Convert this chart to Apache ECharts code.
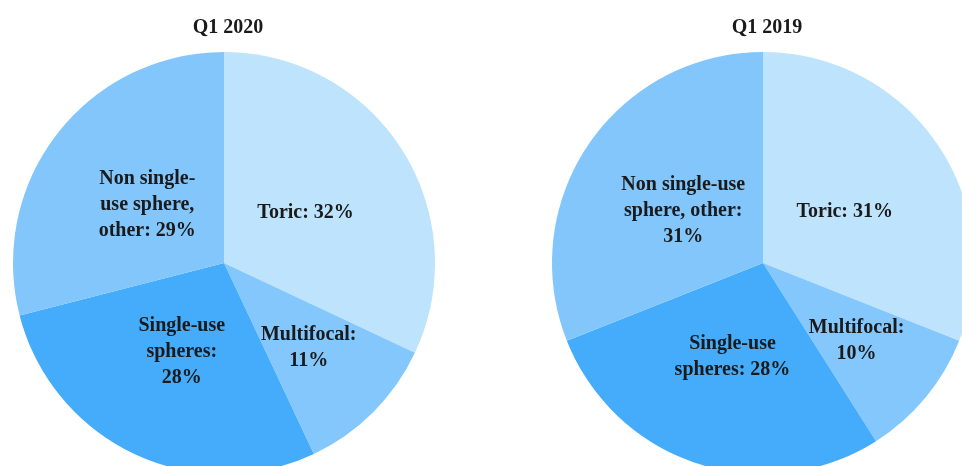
<!DOCTYPE html>
<html>
<head>
<meta charset="utf-8">
<script src="https://cdn.jsdelivr.net/npm/echarts@6/dist/echarts.min.js"></script>
<style>
  html, body { margin: 0; padding: 0; background: #fff; }
  #chart { width: 962px; height: 466px; }
</style>
</head>
<body>
<div id="chart"></div>
<script>
const categories = ['Toric', 'Multifocal', 'Single-use spheres', 'Non single-use sphere, other']
const titles = ['Q1 2020', 'Q1 2019']
const values2020 = [32, 11, 28, 29]
const values2019 = [31, 10, 28, 31]
// label text as wrapped in the picture, {v} is replaced by the value
const labels2020 = ['Toric: {v}', 'Multifocal:\n{v}', 'Single-use\nspheres:\n{v}', 'Non single-\nuse sphere,\nother: {v}']
const labels2019 = ['Toric: {v}', 'Multifocal:\n{v}', 'Single-use\nspheres: {v}', 'Non single-use\nsphere, other:\n{v}']

const colors = ['#bee3fd', '#84c7fc', '#44acfa', '#82c6fc']
// small nudges so labels sit where the original put them by hand
const nudge2020 = [[-10, 8], [8, 8], [4, -9], [9, 8]]
const nudge2019 = [[-8, 10], [10, 9], [3, -9], [10, 9]]
const font = '"Liberation Serif", "DejaVu Serif", serif'

function pieSeries(values, labels, nudge, cx) {
  return {
    type: 'pie',
    center: [cx, 263],
    radius: 211,
    startAngle: 90,
    clockwise: true,
    animation: false,
    silent: true,
    data: categories.map((name, i) => ({
      name,
      value: values[i],
      itemStyle: { color: colors[i] },
      label: {
        formatter: labels[i].replace('{v}', values[i] + '%'),
        offset: nudge[i],
      },
    })),
    itemStyle: { borderWidth: 0 },
    label: {
      show: true,
      position: 'inside',
      fontFamily: font,
      fontWeight: 'bold',
      fontSize: 20,
      lineHeight: 26,
      color: '#1a1a1a',
      align: 'center',
    },
    labelLine: { show: false },
    emphasis: { disabled: true },
  }
}

const titleStyle = { fontFamily: font, fontWeight: 'bold', fontSize: 20, color: '#1a1a1a' }

const chart = echarts.init(document.getElementById('chart'))
chart.setOption({
  animation: false,
  title: [
    { text: titles[0], left: 223, top: 13, textAlign: 'center', textStyle: titleStyle },
    { text: titles[1], left: 762, top: 13, textAlign: 'center', textStyle: titleStyle },
  ],
  series: [
    pieSeries(values2020, labels2020, nudge2020, 224),
    pieSeries(values2019, labels2019, nudge2019, 763),
  ],
})
</script>
</body>
</html>
